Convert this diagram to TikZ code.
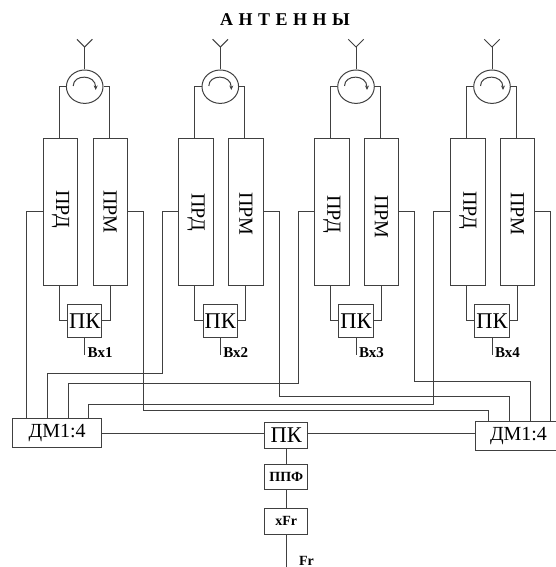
\documentclass[tikz,border=0pt]{standalone}
\usepackage{fontspec}
\setmainfont{Liberation Serif}
\usetikzlibrary{arrows.meta,positioning,shapes.geometric}

\begin{document}
\begin{tikzpicture}[
  x=1pt, y=-1pt,
  line width=1pt, color=black!75,
  every node/.style={text=black},
  blockbox/.style={rectangle, draw, inner sep=0pt, font=\fontsize{20}{20}\selectfont},
  bandbox/.style={blockbox, minimum width=34.4pt, minimum height=147.7pt},
  switchbox/.style={blockbox, minimum width=34.4pt, minimum height=33.4pt, font=\fontsize{22.5}{22}\selectfont},
  dmbox/.style={blockbox, minimum height=29pt},
  chainbox/.style={blockbox, minimum width=42.7pt, minimum height=25.5pt},
  circul/.style={ellipse, draw, inner sep=0pt, minimum width=36.6pt, minimum height=33.4pt},
  boldlabel/.style={inner sep=0pt, font=\bfseries\fontsize{15}{15}\selectfont}
]
\useasboundingbox (0,0) rectangle (555,567);

\node (title) [inner sep=0pt, font=\bfseries\fontsize{18}{18}\selectfont] at (285,20) {\spaceskip=5.5pt\relax А Н Т Е Н Н Ы};

\foreach \n/\cx/\dprd/\dprm in {1/84.7/-5/0, 2/220.3/0/4, 3/356/4/10, 4/492/-4/4} {
  \node (circ\n) [circul] at (\cx,86.7) {};
  \coordinate (ant\n) at (\cx,47);
  \draw (circ\n.north) -- (ant\n);
  \draw (ant\n) -- ++(-7.7,-7.7);
  \draw (ant\n) -- ++(7.7,-7.7);
  \draw[-{Stealth[length=4.5pt,width=4pt]}] (\cx-11.5,86) .. controls (\cx-11.5,74) and (\cx+11,74) .. (\cx+11,90);
  \node (prd\n) [bandbox] at (\cx-24.2,211.9) {\rotatebox{-90}{\hspace*{\dprd pt}ПРД}};
  \node (prm\n) [bandbox] at (\cx+25.5,211.9) {\rotatebox{-90}{\hspace*{\dprm pt}ПРМ}};
  \node (pk\n) [switchbox] at (\cx,320.7) {ПК};
  \coordinate (in\n) at (\cx,355);
  \node (vx\n) [boldlabel, right=2.5pt of in\n, yshift=2pt] {Вх\n};
  \draw (circ\n.west) -| ([xshift=-1.2pt]prd\n.north);
  \draw (circ\n.east) -| ([xshift=-1.2pt]prm\n.north);
  \draw (pk\n.west) -| ([xshift=-1.2pt]prd\n.south);
  \draw (pk\n.east) -| (prm\n.south);
  \draw (pk\n.south) -- (in\n);
}

\node (dml) [dmbox, minimum width=88.5pt] at (57.2,433.3) {ДМ1:4};
\node (dmr) [dmbox, minimum width=81pt] at (515.5,436) {\hspace*{6pt}ДМ1:4};
\node (pkc) [chainbox, font=\fontsize{22.5}{22}\selectfont] at (286.3,435.4) {ПК};
\node (ppf) [chainbox, below=15pt of pkc, font=\bfseries\fontsize{14}{14}\selectfont] {ППФ};
\node (xfr) [chainbox, below=18pt of ppf, font=\bfseries\fontsize{14}{14}\selectfont] {xFr};
\coordinate (frout) at (xfr.south |- 0,567);
\node (frlabel) [boldlabel, font=\bfseries\fontsize{14}{14}\selectfont] at (306.5,560.5) {Fr};

\draw ([yshift=2.4pt]pkc.west) -- ([yshift=2.4pt]pkc.west -| dml.east);
\draw ([yshift=2.4pt]pkc.east) -- ([yshift=2.4pt]pkc.east -| dmr.west);
\draw (pkc.south) -- (ppf.north);
\draw (ppf.south) -- (xfr.north);
\draw (xfr.south) -- (frout);

\coordinate (dl1) at (26.5,418.8);
\coordinate (dl2) at (47,418.8);
\coordinate (dl3) at (68,418.8);
\coordinate (dl4) at (88.5,418.8);
\coordinate (dr1) at (488.3,421.5);
\coordinate (dr2) at (509,421.5);
\coordinate (dr3) at (530,421.5);
\coordinate (dr4) at (550.5,421.5);
\coordinate (busa) at (143,410.5);
\coordinate (busb) at (162.5,373);
\coordinate (busc) at (279,396);
\coordinate (busd) at (298,383.5);
\coordinate (buse) at (414.5,381);
\coordinate (busf) at (433.7,404);

\draw (prd1.west) -| (dl1);
\draw (prm1.east) -| (busa) -| (dr1);
\draw (prd2.west) -| (busb) -| (dl2);
\draw (prm2.east) -| (busc) -| (dr2);
\draw (prd3.west) -| (busd) -| (dl3);
\draw (prm3.east) -| (buse) -| (dr3);
\draw (prd4.west) -| (busf) -| (dl4);
\draw (prm4.east) -| (dr4);
\end{tikzpicture}
\end{document}
